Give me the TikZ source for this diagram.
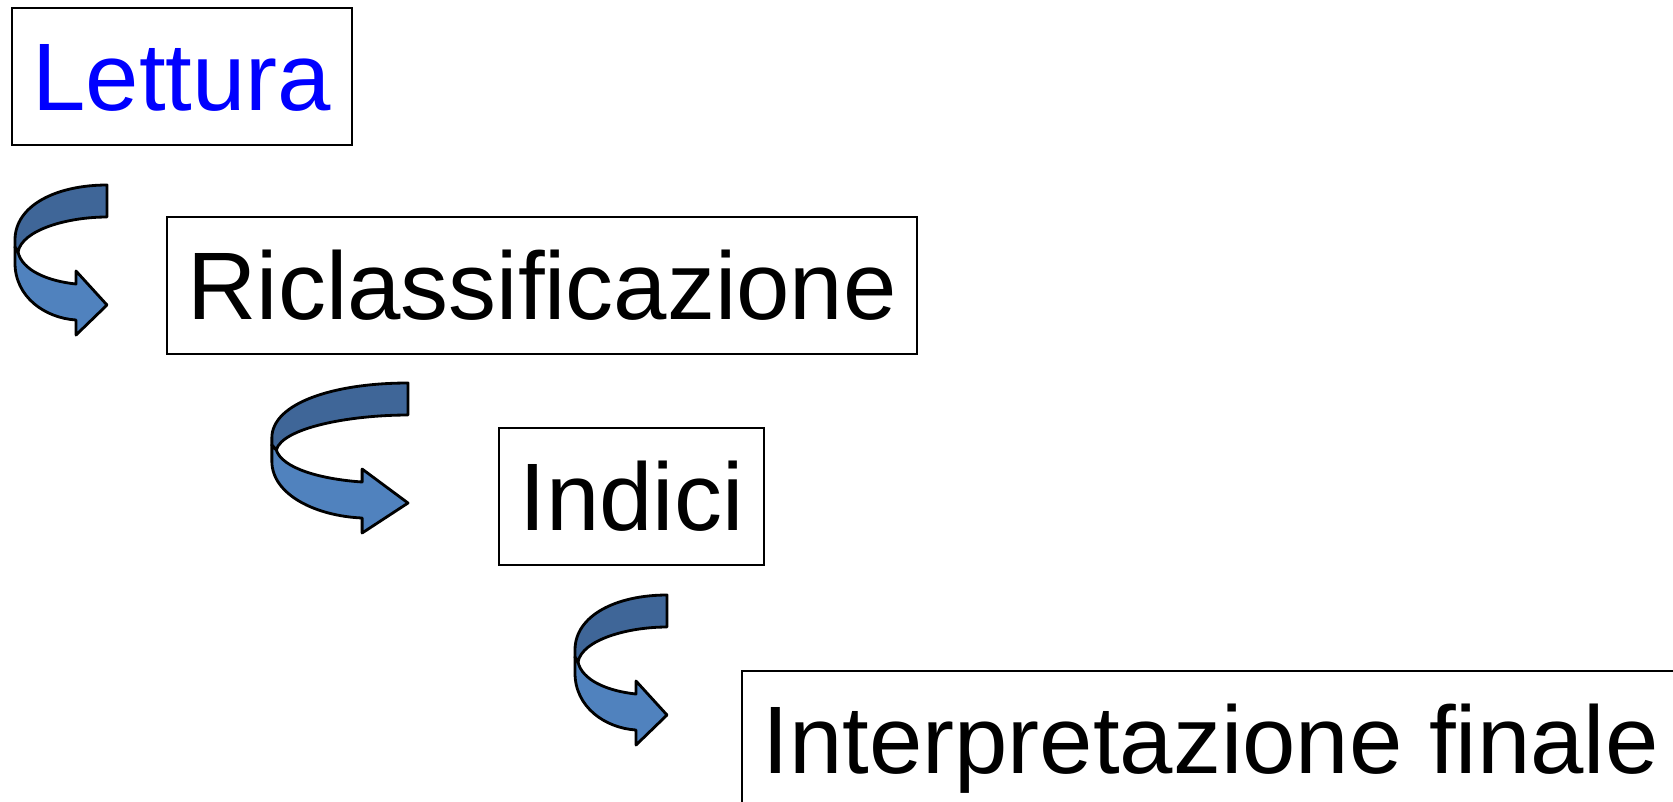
\documentclass[tikz,border=0pt]{standalone}
\usepackage{fontspec}
\setmainfont{Liberation Sans}[Ligatures=NoCommon]
\usepackage{xcolor}
\definecolor{backblue}{RGB}{63,102,152}
\definecolor{frontblue}{RGB}{80,130,190}
\usepackage{tikz}
\usetikzlibrary{positioning, calc}

\tikzset{
    turnarrow/.pic={
        % back of the ribbon
        \filldraw[fill=backblue] (0,0) -- (0,32)
            .. controls (-40,32) and (-85,45) .. (-89,67)
            -- (-92,62) -- (-92,55)
            .. controls (-92,20) and (-50,0) .. (0,0) -- cycle;
        % front of the ribbon with the head
        \filldraw[fill=frontblue] (-89,67) -- (-92,62) -- (-92,78)
            .. controls (-92,112) and (-62,133) .. (-31,135)
            -- (-31,150) -- (0,120) -- (-31,86) -- (-31,99)
            .. controls (-60,96) and (-85,85) .. (-89,67) -- cycle;
    }
}

\begin{document}
\begin{tikzpicture}[
    x=0.1mm, y=-0.1mm,
    stepbox/.style={draw, line width=0.6pt, anchor=north west,
        minimum height=13.7mm, inner xsep=2.05mm,
        text height=6.8mm, text depth=0pt,
        font=\fontsize{27.3pt}{32pt}\selectfont},
    every pic/.style={line width=0.8pt, line join=round}
    ]

    \useasboundingbox (0,0) rectangle (1673,801);
    \clip (0,0) rectangle (1673,801);

    \node[stepbox, text=blue] (lettura) at (11,7) {Lettura};
    \node[stepbox] (riclass) at (166,216) {Riclassificazione};
    \node[stepbox] (indici) at (498,427) {Indici};
    \node[stepbox] (interp) at (741,670) {Interpretazione finale};

    \pic (arr1) at (107,185) {turnarrow};
    \pic[xscale=1.48] (arr2) at (408,383) {turnarrow};
    \pic (arr3) at (667,595) {turnarrow};
\end{tikzpicture}
\end{document}
